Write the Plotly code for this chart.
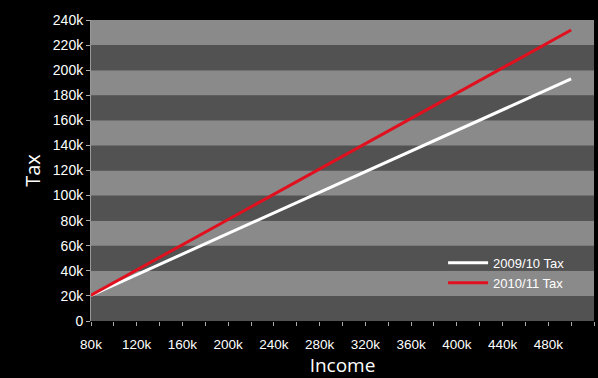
import plotly.graph_objects as go

income = [80000, 500000]
tax_2009 = [20500, 193000]
tax_2010 = [20500, 232000]

x_ticks = list(range(80000, 520001, 20000))
x_labels = [f"{v//1000}k" if (v // 20000) % 2 == 0 and v <= 480000 else "" for v in x_ticks]
y_ticks = list(range(0, 240001, 20000))
y_labels = ["0"] + [f"{v//1000}k" for v in y_ticks[1:]]

band_light = "#8a8a8a"
band_dark = "#525252"

fig = go.Figure()
fig.add_trace(go.Scatter(x=income, y=tax_2009, mode="lines", name="2009/10 Tax",
                         line=dict(color="#ffffff", width=3)))
fig.add_trace(go.Scatter(x=income, y=tax_2010, mode="lines", name="2010/11 Tax",
                         line=dict(color="#e0101e", width=3)))

shapes = []
for i in range(len(y_ticks) - 1):
    shapes.append(dict(type="rect", xref="paper", yref="y", x0=0, x1=1,
                       y0=y_ticks[i], y1=y_ticks[i + 1],
                       fillcolor=band_dark if i % 2 == 0 else band_light,
                       line=dict(width=0), layer="below"))

fig.update_layout(
    width=598, height=378,
    paper_bgcolor="black", plot_bgcolor=band_dark,
    margin=dict(l=91, r=4, t=20, b=57),
    shapes=shapes,
    font=dict(family="Liberation Sans, Arial, sans-serif", color="white", size=13),
    showlegend=True,
    legend=dict(x=0.7, y=0.16, xanchor="left", yanchor="middle",
                bgcolor="rgba(0,0,0,0)", font=dict(size=13, color="white"),
                itemwidth=40, tracegroupgap=0),
    xaxis=dict(range=[80000, 520000], tickvals=x_ticks, ticktext=x_labels,
               ticks="outside", ticklen=4, tickcolor="#aaaaaa",
               showgrid=False, zeroline=False, showline=False,
               tickfont=dict(size=13.5), ticklabelstandoff=7,
               title=dict(text="Income", font=dict(family="Open Sans, sans-serif", size=19), standoff=7)),
    yaxis=dict(range=[0, 240000], tickvals=y_ticks, ticktext=y_labels,
               ticks="outside", ticklen=4, tickcolor="#aaaaaa",
               showgrid=False, zeroline=False, showline=True, linecolor="#999999", linewidth=1,
               tickfont=dict(size=14),
               title=dict(text="Tax", font=dict(family="Open Sans, sans-serif", size=20), standoff=6)),
)

fig.write_html("out.html")
